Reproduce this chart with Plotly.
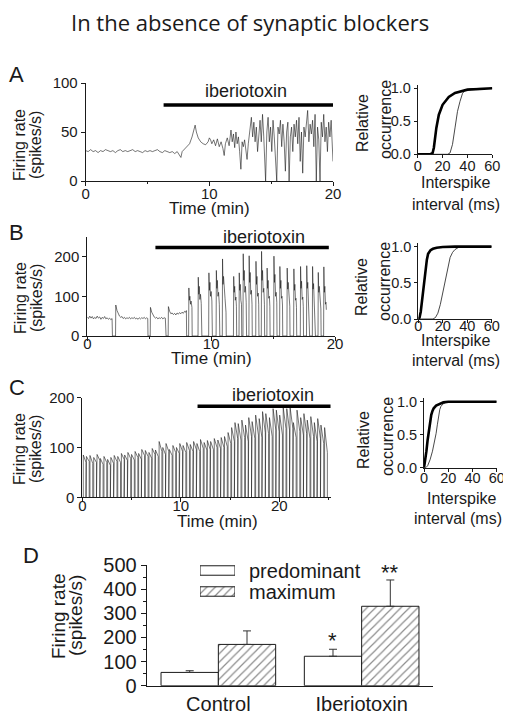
import plotly.graph_objects as go

# The page body adds an 8 px margin, so the figure is drawn 8 px smaller and
# every reference pixel position is shifted by that offset.
OFF = 8
W, H = 511 - OFF, 718 - OFF
FONT = "Liberation Sans, Arial, sans-serif"
INK = "#1a1a1a"


def PX(x):
    return (x - OFF) / W


def PY(y):
    return 1 - (y - OFF) / H


# ---------------- Panel A: firing-rate trace ----------------
a_time = [
    0.0, 0.2, 0.4, 0.6, 0.8, 1.0, 1.2, 1.4, 1.6, 1.8,
    2.0, 2.2, 2.4, 2.6, 2.8, 3.0, 3.2, 3.4, 3.6, 3.8,
    4.0, 4.2, 4.4, 4.6, 4.8, 5.0, 5.2, 5.4, 5.6, 5.8,
    6.0, 6.2, 6.4, 6.6, 6.8, 7.0,
    7.2, 7.4, 7.6, 7.7, 7.8, 8.0, 8.2, 8.4, 8.6, 8.75,
    8.85, 8.95, 9.1, 9.3, 9.5, 9.7, 9.9, 10.0, 10.1, 10.2,
    10.35, 10.5, 10.65, 10.8, 10.95, 11.1, 11.2, 11.3, 11.45, 11.6,
    11.75, 11.85, 11.95, 12.05, 12.15, 12.25, 12.35, 12.45, 12.55, 12.65,
    12.75, 12.85, 12.95, 13.05, 13.15, 13.3, 13.4, 13.5, 13.6, 13.7,
    13.8, 13.9, 14.0, 14.1, 14.2, 14.3, 14.4, 14.55, 14.65, 14.75,
    14.85, 14.95, 15.05, 15.15, 15.25, 15.35, 15.45, 15.55, 15.65, 15.75,
    15.85, 15.95, 16.05, 16.15, 16.25, 16.35, 16.45, 16.55, 16.65, 16.75,
    16.85, 16.95, 17.05, 17.15, 17.25, 17.35, 17.45, 17.55, 17.65, 17.75,
    17.85, 17.95, 18.05, 18.15, 18.25, 18.35, 18.45, 18.55, 18.65, 18.75,
    18.85, 18.95, 19.05, 19.15, 19.25, 19.35, 19.45, 19.55, 19.65, 19.75,
    19.85, 19.95, 20.0,
]
a_rate = [
    31, 30, 32, 30, 31, 29, 31, 30, 32, 31,
    30, 31, 29, 31, 32, 30, 31, 30, 31, 32,
    30, 31, 30, 29, 31, 30, 31, 30, 31, 32,
    30, 29, 31, 30, 29, 30,
    28, 30, 26, 24, 30, 33, 36, 38, 45, 52,
    57, 50, 44, 40, 38, 37, 40, 44, 42, 38,
    42, 36, 43, 35, 40, 33, 26, 38, 44, 36,
    52, 40, 48, 34, 50, 38, 45, 30, 12, 40,
    35, 42, 30, 22, 38, 55, 65, 45, 60, 40,
    55, 30, 50, 62, 40, 68, 45, 0, 50, 65,
    40, 55, 30, 62, 45, 20, 0, 55, 48, 62,
    35, 58, 40, 10, 50, 60, 0, 45, 55, 30,
    58, 45, 62, 38, 65, 20, 50, 8, 55, 45,
    60, 72, 40, 58, 48, 62, 35, 68, 0, 55,
    42, 0, 60, 45, 68, 40, 55, 30, 60, 45,
    62, 40, 20,
]
assert len(a_time) == len(a_rate)

# ---------------- Panel B: firing-rate trace ----------------
b_time = [
    0.0, 0.1, 0.2, 0.3, 0.4, 0.5, 0.6, 0.7, 0.8, 0.9,
    1.0, 1.1, 1.2, 1.3, 1.4, 1.5, 1.6, 1.7, 1.8, 1.9, 2.0,
    2.03, 2.28,
    2.3, 2.4, 2.5, 2.6, 2.7, 2.8, 2.9, 3.0, 3.1, 3.2, 3.3, 3.4, 3.5,
    3.6, 3.7, 3.8, 3.9, 4.0, 4.1, 4.2, 4.3, 4.4, 4.5, 4.6, 4.7, 4.8,
    4.88, 4.9, 5.08,
    5.1, 5.2, 5.3, 5.4, 5.5, 5.6, 5.7, 5.8, 5.9, 6.0, 6.1, 6.2, 6.3,
    6.36, 6.53,
    6.55, 6.65, 6.75, 6.85, 6.95, 7.05, 7.15, 7.25, 7.35, 7.45, 7.55, 7.65, 7.75, 7.85, 7.95,
    8.0, 8.02, 8.18,
    8.2, 8.24, 8.28, 8.33, 8.38, 8.45, 8.47,
    8.94, 8.96, 9.0, 9.04, 9.09, 9.14, 9.2, 9.25,
    9.8, 9.82, 9.86, 9.9, 9.95, 10.0, 10.06, 10.1,
    10.4, 10.42, 10.46, 10.5, 10.55, 10.6, 10.66, 10.7,
    10.9, 10.92, 10.96, 11.0, 11.06, 11.12, 11.2, 11.22,
    11.8, 11.82, 11.86, 11.9, 11.95, 12.0, 12.04, 12.06,
    12.25, 12.27, 12.31, 12.35, 12.4, 12.45, 12.47,
    12.57, 12.59, 12.63, 12.67, 12.72, 12.77, 12.83, 12.86,
    13.05, 13.07, 13.11, 13.15, 13.2, 13.25, 13.3, 13.32,
    13.6, 13.62, 13.66, 13.7, 13.75, 13.8, 13.84, 13.86,
    14.05, 14.07, 14.11, 14.15, 14.2, 14.25, 14.3, 14.32,
    14.5, 14.52, 14.56, 14.6, 14.65, 14.7, 14.74, 14.76,
    15.05, 15.07, 15.11, 15.15, 15.2, 15.25, 15.3, 15.32,
    15.53, 15.55, 15.59, 15.63, 15.68, 15.72, 15.76, 15.78,
    16.12, 16.14, 16.18, 16.22, 16.27, 16.31, 16.35, 16.37,
    16.66, 16.68, 16.72, 16.76, 16.81, 16.85, 16.89, 16.91,
    17.2, 17.22, 17.26, 17.3, 17.35, 17.4, 17.44, 17.46,
    17.7, 17.72, 17.76, 17.8, 17.85, 17.9, 17.93, 17.95,
    18.17, 18.19, 18.23, 18.27, 18.32, 18.36, 18.4, 18.42,
    18.63, 18.65, 18.69, 18.73, 18.78, 18.82, 18.86, 18.88,
    19.08, 19.1, 19.14, 19.18, 19.23, 19.27, 19.3,
]
b_rate = [
    48, 44, 50, 45, 49, 43, 47, 44, 50, 45,
    48, 42, 47, 44, 49, 43, 46, 42, 45, 41, 44,
    0, 0,
    78, 64, 55, 50, 47, 49, 44, 47, 43, 46, 44, 47, 43,
    46, 44, 47, 43, 45, 42, 46, 43, 46, 44, 47, 43, 46,
    44, 0, 0,
    72, 60, 52, 48, 45, 47, 43, 46, 44, 47, 43, 46, 45,
    0, 0,
    74, 62, 56, 58, 54, 57, 53, 58, 55, 59, 56, 60, 57, 62, 60,
    64, 0, 0,
    121, 90, 100, 80, 88, 72, 0,
    0, 148, 105, 125, 92, 105, 82, 0,
    0, 159, 115, 135, 100, 112, 88, 0,
    0, 165, 120, 140, 100, 110, 80, 0,
    0, 194, 130, 150, 100, 95, 60, 0,
    0, 150, 110, 125, 90, 98, 75, 0,
    0, 159, 115, 130, 90, 80, 0,
    0, 207, 140, 165, 110, 125, 85, 0,
    0, 202, 135, 160, 105, 115, 80, 0,
    0, 188, 130, 150, 100, 108, 80, 0,
    0, 213, 140, 165, 110, 120, 80, 0,
    0, 171, 120, 140, 95, 100, 75, 0,
    0, 201, 135, 155, 100, 110, 85, 0,
    0, 175, 120, 140, 95, 100, 78, 0,
    0, 171, 118, 135, 92, 100, 75, 0,
    0, 169, 115, 130, 90, 95, 72, 0,
    0, 175, 120, 138, 92, 98, 74, 0,
    0, 177, 120, 135, 90, 95, 72, 0,
    0, 175, 118, 132, 88, 92, 70, 0,
    0, 160, 110, 125, 85, 88, 68, 0,
    0, 174, 110, 125, 80, 85, 66,
]
assert len(b_time) == len(b_rate)

# ---------------- Panel C: bursts (onset, peak, end-of-burst level) ----------------
c_on = [
    0.1, 0.42, 0.78, 1.16, 1.5, 1.83, 2.2, 2.57, 2.9, 3.24,
    3.6, 3.97, 4.3, 4.63, 5.0, 5.36, 5.72, 6.04, 6.4, 6.77,
    7.1, 7.43, 7.8, 8.17, 8.5, 8.84, 9.2, 9.56, 9.9, 10.23,
    10.6, 10.96, 11.3, 11.64, 12.0, 12.37, 12.7, 13.03, 13.4, 13.76,
    14.1, 14.44, 14.8, 15.16, 15.5, 15.83, 16.2, 16.57, 16.9, 17.24,
    17.6, 17.96, 18.3, 18.63, 19.0, 19.37, 19.7, 20.04, 20.4, 20.76,
    21.1, 21.43, 21.8, 22.17, 22.5, 22.84, 23.2, 23.56, 23.9, 24.23,
    24.6,
]
c_peak = [
    85, 82, 84, 80, 86, 78, 82, 76, 80, 84,
    82, 88, 85, 90, 86, 92, 88, 96, 94, 90,
    98, 95, 112, 100, 108, 96, 104, 100, 108, 104,
    110, 106, 112, 108, 116, 110, 114, 112, 118, 115,
    120, 122, 130, 140, 150, 148, 155, 145, 160, 152,
    165, 158, 172, 168, 160, 178, 175, 165, 180, 178,
    180, 150, 175, 160, 168, 155, 162, 150, 158, 145,
    140,
]
c_low = [
    70, 72, 68, 70, 74, 66, 70, 64, 68, 72,
    70, 76, 74, 78, 75, 80, 76, 84, 82, 78,
    86, 82, 92, 86, 92, 84, 90, 88, 92, 90,
    94, 92, 96, 92, 98, 95, 96, 96, 100, 98,
    100, 102, 108, 112, 118, 115, 120, 112, 122, 118,
    125, 120, 130, 128, 122, 135, 132, 125, 138, 135,
    138, 120, 132, 125, 128, 118, 122, 112, 118, 108,
    90,
]
C_BURST_LEN = 0.28  # burst duration (min)
assert len(c_on) == len(c_peak) == len(c_low)

# iberiotoxin application bars (start, end, level) per panel
tox_a = ([6.3, 20.1], 77.5)
tox_b = ([5.5, 19.5], 223)
tox_c = ([11.7, 25.2], 183)

# ---------------- cumulative ISI distributions ----------------
cdf_a_thick_x = [0, 10, 12, 13, 15, 17, 20, 25, 30, 35, 40, 50, 60]
cdf_a_thick_y = [0, 0, 0.02, 0.1, 0.4, 0.6, 0.75, 0.87, 0.93, 0.96, 0.98, 0.99, 1.0]
cdf_a_thin_x = [0, 24, 26, 28, 30, 32, 34, 36, 38, 42, 50, 60]
cdf_a_thin_y = [0, 0, 0.02, 0.15, 0.4, 0.65, 0.8, 0.92, 0.97, 0.99, 1.0, 1.0]

cdf_b_thick_x = [0, 1, 2, 3, 4, 5, 6, 7, 8, 10, 12, 15, 20, 30, 60]
cdf_b_thick_y = [0, 0.02, 0.1, 0.25, 0.4, 0.55, 0.7, 0.82, 0.9, 0.95, 0.97, 0.985, 0.995, 1.0, 1.0]
cdf_b_thin_x = [0, 12, 14, 16, 18, 20, 22, 24, 26, 28, 30, 33, 40, 60]
cdf_b_thin_y = [0, 0, 0.02, 0.08, 0.2, 0.36, 0.55, 0.72, 0.85, 0.92, 0.96, 0.99, 1.0, 1.0]

cdf_c_thick_x = [0, 1, 2, 3, 4, 5, 6, 7, 8, 10, 13, 16, 20, 30, 60]
cdf_c_thick_y = [0, 0.1, 0.25, 0.42, 0.58, 0.7, 0.8, 0.86, 0.9, 0.94, 0.97, 0.99, 1.0, 1.0, 1.0]
cdf_c_thin_x = [0, 1.5, 3, 5, 7, 9, 10, 11, 12, 13, 14, 16, 18, 25, 60]
cdf_c_thin_y = [0, 0, 0.03, 0.12, 0.25, 0.42, 0.52, 0.65, 0.78, 0.88, 0.93, 0.97, 0.99, 1.0, 1.0]

# ---------------- Panel D: bar chart ----------------
groups = ["Control", "Iberiotoxin"]
predominant = [55, 122]
predominant_err = [7, 29]
maximum = [171, 329]
maximum_err = [56, 109]
legend_labels = ["maximum", "predominant"]

fig = go.Figure()

TRACE_LINE = dict(color=INK, width=0.6)

fig.add_trace(go.Scatter(x=a_time, y=a_rate, mode="lines", line=TRACE_LINE,
                         xaxis="x", yaxis="y", showlegend=False, hoverinfo="skip"))
fig.add_trace(go.Scatter(x=b_time, y=b_rate, mode="lines", line=TRACE_LINE,
                         xaxis="x3", yaxis="y3", showlegend=False, hoverinfo="skip"))
c_t, c_v = [], []
for on, pk, lo in zip(c_on, c_peak, c_low):
    c_t += [on, on, on + C_BURST_LEN, on + C_BURST_LEN]
    c_v += [0, pk, lo, 0]
fig.add_trace(go.Scatter(x=c_t, y=c_v, mode="lines", line=TRACE_LINE,
                         xaxis="x5", yaxis="y5", showlegend=False, hoverinfo="skip"))

for (xs, lvl), xa, ya in [(tox_a, "x", "y"), (tox_b, "x3", "y3"), (tox_c, "x5", "y5")]:
    fig.add_trace(go.Scatter(x=xs, y=[lvl, lvl], mode="lines",
                             line=dict(color="black", width=3.5),
                             xaxis=xa, yaxis=ya, showlegend=False, hoverinfo="skip",
                             cliponaxis=False))

for (tx, ty, nx, ny), xa, ya in [
    ((cdf_a_thick_x, cdf_a_thick_y, cdf_a_thin_x, cdf_a_thin_y), "x2", "y2"),
    ((cdf_b_thick_x, cdf_b_thick_y, cdf_b_thin_x, cdf_b_thin_y), "x4", "y4"),
    ((cdf_c_thick_x, cdf_c_thick_y, cdf_c_thin_x, cdf_c_thin_y), "x6", "y6"),
]:
    fig.add_trace(go.Scatter(x=nx, y=ny, mode="lines", line=dict(color=INK, width=0.8),
                             xaxis=xa, yaxis=ya, showlegend=False, hoverinfo="skip",
                             cliponaxis=False))
    fig.add_trace(go.Scatter(x=tx, y=ty, mode="lines", line=dict(color="black", width=2.6),
                             xaxis=xa, yaxis=ya, showlegend=False, hoverinfo="skip",
                             cliponaxis=False))

PLAIN = dict(color="white", line=dict(color=INK, width=1))
HATCH = dict(color="white", line=dict(color=INK, width=1),
             pattern=dict(shape="/", fgcolor=INK, bgcolor="white", size=6, solidity=0.2))

fig.add_trace(go.Bar(
    x=groups, y=predominant, name="predominant", xaxis="x7", yaxis="y7",
    marker=PLAIN, showlegend=False,
    error_y=dict(type="data", array=predominant_err, arrayminus=[0, 0], symmetric=False,
                 color="#333", thickness=1, width=4),
))
fig.add_trace(go.Bar(
    x=groups, y=maximum, name="maximum", xaxis="x7", yaxis="y7",
    marker=HATCH, showlegend=False,
    error_y=dict(type="data", array=maximum_err, arrayminus=[0, 0], symmetric=False,
                 color="#333", thickness=1, width=4),
))
# legend keys drawn as wide boxes (as in the reference)
fig.add_trace(go.Bar(x=[1], y=[legend_labels[1]], orientation="h", marker=PLAIN,
                     xaxis="x8", yaxis="y8", width=0.45, showlegend=False, hoverinfo="skip"))
fig.add_trace(go.Bar(x=[1], y=[legend_labels[0]], orientation="h", marker=HATCH,
                     xaxis="x8", yaxis="y8", width=0.45, showlegend=False, hoverinfo="skip"))


def axis(**kw):
    base = dict(showline=True, linecolor=INK, linewidth=1, ticks="outside", ticklen=4,
                tickcolor=INK, tickfont=dict(size=15, family=FONT, color=INK),
                showgrid=False, zeroline=False, fixedrange=True, automargin=False)
    base.update(kw)
    return base


minor5 = dict(ticks="outside", ticklen=2, dtick=5, tickcolor=INK)
CDF_TICK = dict(size=14.5, family=FONT, color=INK)

layout = dict(
    width=W, height=H, margin=dict(l=0, r=0, t=0, b=0, pad=0, autoexpand=False),
    paper_bgcolor="white", plot_bgcolor="white",
    font=dict(family=FONT, color=INK),
    barmode="group", bargap=0.2, bargroupgap=0,
    showlegend=False,
    # A
    xaxis=axis(domain=[PX(85.7), PX(333)], range=[0, 20], anchor="y",
               tickvals=[0, 10, 20], minor=minor5, ticklabelstandoff=-5),
    yaxis=axis(domain=[PY(181), PY(83)], range=[0, 100], anchor="x",
               tickvals=[0, 50, 100]),
    xaxis2=axis(domain=[PX(417.7), PX(492.3)], range=[0, 60], anchor="y2",
                tickvals=[0, 20, 40, 60], ticklen=3, ticklabelstandoff=-5,
                tickfont=CDF_TICK),
    yaxis2=axis(domain=[PY(154.3), PY(85)], range=[0, 1.05], anchor="x2",
                tickvals=[0, 0.5, 1.0], tickformat=".1f", ticklen=3, tickfont=CDF_TICK),
    # B
    xaxis3=axis(domain=[PX(87.3), PX(335)], range=[0, 20], anchor="y3",
                tickvals=[0, 10, 20], minor=minor5, ticklabelstandoff=-10),
    yaxis3=axis(domain=[PY(336), PY(236.7)], range=[0, 250], anchor="x3",
                tickvals=[0, 100, 200]),
    xaxis4=axis(domain=[PX(418.3), PX(491.7)], range=[0, 60], anchor="y4",
                tickvals=[0, 20, 40, 60], ticklen=3, ticklabelstandoff=-9,
                tickfont=CDF_TICK),
    yaxis4=axis(domain=[PY(319), PY(243)], range=[0, 1.05], anchor="x4",
                tickvals=[0, 0.5, 1.0], tickformat=".1f", ticklen=3, tickfont=CDF_TICK),
    # C
    xaxis5=axis(domain=[PX(82.3), PX(331)], range=[0, 25.25], anchor="y5",
                tickvals=[0, 10, 20], minor=minor5, ticklabelstandoff=-9),
    yaxis5=axis(domain=[PY(497.3), PY(397.7)], range=[0, 200], anchor="x5",
                tickvals=[0, 100, 200]),
    xaxis6=axis(domain=[PX(424), PX(496.7)], range=[0, 60], anchor="y6",
                tickvals=[0, 20, 40, 60], ticklen=3, ticklabelstandoff=-6,
                tickfont=CDF_TICK),
    yaxis6=axis(domain=[PY(467.7), PY(398.4)], range=[0, 1.05], anchor="x6",
                tickvals=[0, 0.5, 1.0], tickformat=".1f", ticklen=3, tickfont=CDF_TICK),
    # D
    xaxis7=axis(domain=[PX(146.7), PX(433.3)], anchor="y7", ticks="",
                tickfont=dict(size=20, family=FONT, color=INK), range=[-0.5, 1.5],
                ticklabelstandoff=0),
    yaxis7=axis(domain=[PY(685.7), PY(565)], range=[0, 500], anchor="x7",
                tickvals=[0, 100, 200, 300, 400, 500], ticklen=5,
                tickfont=dict(size=20, family=FONT, color=INK),
                minor=dict(ticks="outside", ticklen=3, dtick=50, tickcolor=INK)),
    # legend key axes (invisible)
    xaxis8=dict(domain=[PX(200), PX(235)], range=[0, 1], anchor="y8", visible=False,
                fixedrange=True),
    yaxis8=dict(domain=[PY(602), PY(560)], range=[-0.5, 1.5], anchor="x8", visible=False,
                fixedrange=True, categoryorder="array", categoryarray=legend_labels),
)
fig.update_layout(**layout)

ann = []


def txt(x, y, s, size, angle=0, family=FONT, xanchor="center"):
    ann.append(dict(x=PX(x), y=PY(y), xref="paper", yref="paper", text=s, showarrow=False,
                    font=dict(size=size, family=family, color=INK), textangle=angle,
                    xanchor=xanchor, yanchor="middle"))


txt(250, 22, "In the absence of synaptic blockers", 22, family="Open Sans, sans-serif")
# panel letters
txt(16.5, 75, "A", 22)
txt(16.5, 232, "B", 22)
txt(16.5, 388, "C", 22)
txt(31, 555, "D", 22)
# trace y titles
for yc in (145, 298, 449):
    txt(20, yc, "Firing rate", 16, angle=-90)
    txt(36, yc, "(spikes/s)", 16, angle=-90)
# time titles
txt(209, 208, "Time (min)", 17)
txt(211, 358, "Time (min)", 17)
txt(217, 521, "Time (min)", 17)
# CDF titles
for (rx, ry, ox, oy, ix, iy, jx, jy) in [
    (362, 123, 385, 120, 455, 182, 456, 204),
    (362, 287, 385, 282, 455, 340, 456, 360),
    (363, 440, 387, 437, 461, 498, 458, 518),
]:
    txt(rx, ry, "Relative", 16, angle=-90)
    txt(ox, oy, "occurrence", 16, angle=-90)
    txt(ix, iy, "Interspike", 16)
    txt(jx, jy, "interval (ms)", 16)
# D y title
txt(58, 616, "Firing rate", 19, angle=-90)
txt(75, 616, "(spikes/s)", 19, angle=-90)
# legend texts
txt(247, 571, "predominant", 20, xanchor="left")
txt(247, 592, "maximum", 20, xanchor="left")
# iberiotoxin labels above the application bars
txt(246, 91, "iberiotoxin", 18)
txt(264, 237, "iberiotoxin", 18)
txt(273, 395, "iberiotoxin", 18)

# significance marks
ann.append(dict(x=0.8, y=189, xref="x7", yref="y7", text="*", showarrow=False,
                font=dict(size=22, family=FONT, color=INK), yanchor="middle"))
ann.append(dict(x=1.2, y=467, xref="x7", yref="y7", text="**", showarrow=False,
                font=dict(size=22, family=FONT, color=INK), yanchor="middle"))

fig.update_layout(annotations=ann)
fig.write_html("out.html")
